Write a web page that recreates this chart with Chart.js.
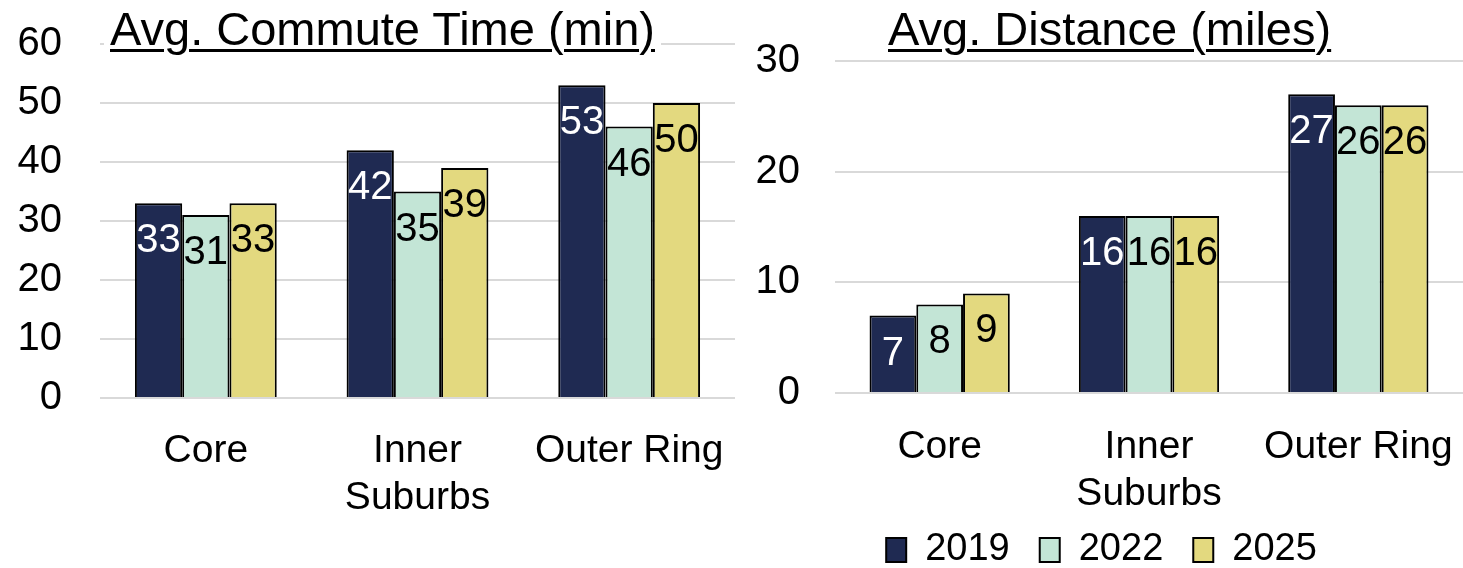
<!DOCTYPE html>
<html>
<head>
<meta charset="utf-8">
<script src="https://cdn.jsdelivr.net/npm/chart.js@4"></script>
<style>
  body { margin: 0; background: #fff; }
  #wrap { position: relative; width: 1463px; height: 568px; font-family: "Liberation Sans", Arial, sans-serif; }
  .box { position: absolute; top: 0; height: 568px; }
  .title { position: absolute; font-size: 47px; line-height: 50px; text-decoration: underline; text-decoration-thickness: 3px; text-underline-offset: 4px; background: #fff; padding: 0 6px; color: #000; white-space: nowrap; }
</style>
</head>
<body>
<div id="wrap">
  <div class="box" style="left:0; width:740px;"><canvas id="commuteChart" width="740" height="568"></canvas></div>
  <div class="box" style="left:740px; width:723px;"><canvas id="distanceChart" width="723" height="568"></canvas></div>
  <div class="title" style="left:104px; top:4px;">Avg. Commute Time (min)</div>
  <div class="title" style="left:882px; top:4px;">Avg. Distance (miles)</div>
</div>
<script>
// --- データ ---
const categories = ['Core', ['Inner', 'Suburbs'], 'Outer Ring'];
const years = ['2019', '2022', '2025'];

const commute2019 = [33, 42, 53];
const commute2022 = [31, 35, 46];
const commute2025 = [33, 39, 50];

const distance2019 = [7, 16, 27];
const distance2022 = [8, 16, 26];
const distance2025 = [9, 16, 26];

const commuteTicks = { max: 60, step: 10 };
const distanceTicks = { max: 30, step: 10 };

const barColors = ['#1F2A52', '#C3E5D6', '#E3D97F'];
const labelColors = ['#ffffff', '#000000', '#000000'];
const fontFamily = '"Liberation Sans", Arial, sans-serif';

// --- バーの中に値を表示 ---
const barLabels = {
    id: 'barLabels',
    afterDatasetsDraw(chart) {
        const ctx = chart.ctx;
        chart.data.datasets.forEach((ds, i) => {
            const meta = chart.getDatasetMeta(i);
            meta.data.forEach((bar, j) => {
                ctx.save();
                ctx.font = '40px ' + fontFamily;
                ctx.fillStyle = labelColors[i];
                ctx.textAlign = 'center';
                ctx.textBaseline = 'middle';
                ctx.fillText(ds.data[j], bar.x, bar.y + 38);
                ctx.restore();
            });
        });
    }
};

// 凡例の高さを固定
const legendHeight = {
    id: 'legendHeight',
    beforeUpdate(chart, args, opts) {
        const lg = chart.legend;
        if (lg && !lg._fixed) {
            const fit = lg.fit;
            lg.fit = function () {
                fit.call(this);
                this.height = opts.height;
            };
            lg._fixed = true;
        }
    }
};

function makeDatasets(series) {
    return series.map((data, i) => ({
        label: years[i],
        data: data,
        backgroundColor: barColors[i],
        borderColor: '#000000',
        borderWidth: 2,
        categoryPercentage: 0.67,
        barPercentage: 1.0
    }));
}

function makeOptions(cfg) {
    return {
        responsive: false,
        animation: false,
        layout: { padding: cfg.padding },
        scales: {
            x: {
                grid: { display: false, drawTicks: false },
                border: { display: false },
                ticks: {
                    color: '#000',
                    font: { family: fontFamily, size: 39 },
                    padding: cfg.xPad,
                    maxRotation: 0,
                    autoSkip: false
                },
                afterFit: s => {
                    s.height = cfg.xHeight;
                    s.paddingLeft = 0;
                    s.paddingRight = 0;
                    // 2行目のラベルが切れないように
                    s._computeLabelArea = () => undefined;
                }
            },
            y: {
                min: 0,
                max: cfg.ticks.max,
                grid: { color: '#d9d9d9', lineWidth: 2, drawTicks: false },
                border: { display: false },
                ticks: {
                    stepSize: cfg.ticks.step,
                    color: '#000',
                    font: { family: fontFamily, size: 40 },
                    padding: cfg.yPad
                },
                afterFit: s => {
                    s.width = cfg.yWidth;
                    s.paddingTop = 0;
                    s.paddingBottom = 0;
                }
            }
        },
        plugins: {
            legend: cfg.legend,
            legendHeight: { height: cfg.legendH || 0 },
            title: { display: false },
            tooltip: { enabled: false }
        }
    };
}

new Chart(document.getElementById('commuteChart').getContext('2d'), {
    type: 'bar',
    data: {
        labels: categories,
        datasets: makeDatasets([commute2019, commute2022, commute2025])
    },
    options: makeOptions({
        padding: { left: 0, right: 5, top: 44, bottom: 0 },
        xHeight: 170,
        xPad: 30,
        yWidth: 100,
        yPad: 38,
        ticks: commuteTicks,
        legend: { display: false }
    }),
    plugins: [barLabels]
});

new Chart(document.getElementById('distanceChart').getContext('2d'), {
    type: 'bar',
    data: {
        labels: categories,
        datasets: makeDatasets([distance2019, distance2022, distance2025])
    },
    options: makeOptions({
        padding: { left: 0, right: 0, top: 61, bottom: 0 },
        xHeight: 108,
        xPad: 31,
        yWidth: 95,
        yPad: 35,
        ticks: distanceTicks,
        legendH: 67,
        legend: {
            display: true,
            position: 'bottom',
            labels: {
                color: '#000',
                font: { family: fontFamily, size: 38 },
                boxWidth: 20,
                boxHeight: 24,
                padding: 30
            }
        }
    }),
    plugins: [barLabels, legendHeight]
});
</script>
</body>
</html>
